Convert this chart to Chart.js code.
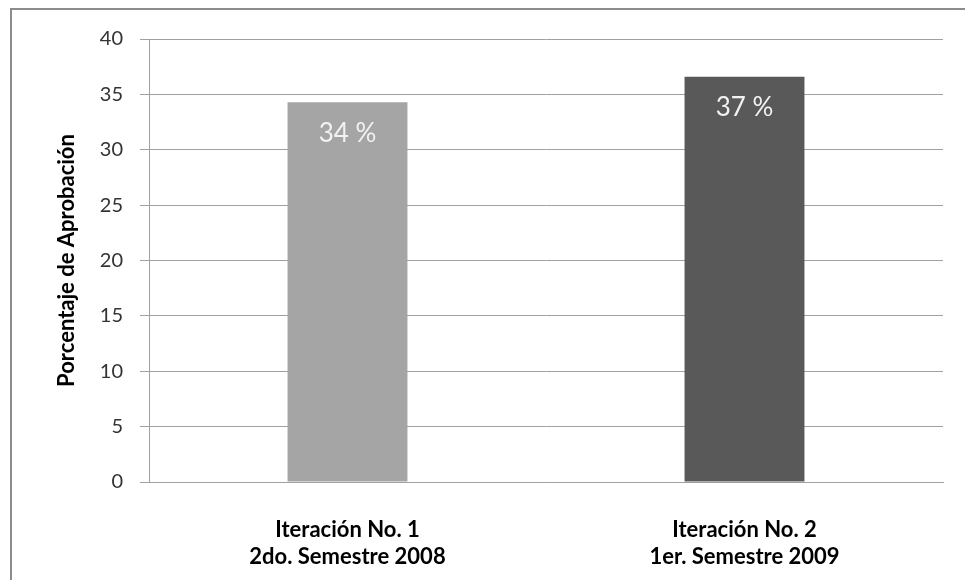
<!DOCTYPE html>
<html>
<head>
<meta charset="utf-8">
<script src="https://cdn.jsdelivr.net/npm/chart.js@4/dist/chart.umd.min.js"></script>
<style>
  html, body { margin: 0; padding: 0; background: #fff; }
  #wrap { position: relative; width: 965px; height: 580px; overflow: hidden; }
  #frame { position: absolute; left: 10px; top: 8px; width: 1000px; height: 700px; border: 2px solid #8c8c8c; }
  canvas { position: absolute; left: 0; top: 0; }
</style>
</head>
<body>
<div id="wrap">
  <div id="frame"></div>
  <canvas id="chart" width="965" height="580"></canvas>
</div>
<script>
'use strict';

// Approval rate per iteration
const categories = [
    ['Iteración No. 1', '2do. Semestre 2008'],
    ['Iteración No. 2', '1er. Semestre 2009']
];
const approval = [34.3, 36.6];
const valueLabels = ['34 %', '37 %'];
const barColors = ['#a5a5a5', '#595959'];

const fontFamily = 'Lato, "Open Sans", sans-serif';

// writes the percentage inside the top of each bar
const barLabels = {
    id: 'barLabels',
    afterDatasetsDraw(chart) {
        const ctx = chart.ctx;
        const meta = chart.getDatasetMeta(0);
        ctx.save();
        ctx.fillStyle = '#f2f2f2';
        ctx.font = '26px ' + fontFamily;
        ctx.textAlign = 'center';
        ctx.textBaseline = 'middle';
        meta.data.forEach((bar, i) => {
            ctx.fillText(valueLabels[i], bar.x, bar.y + 31);
        });
        ctx.restore();
    }
};

function draw() {
    new Chart(document.getElementById('chart'), {
        type: 'bar',
        data: {
            labels: categories,
            datasets: [{
                data: approval,
                backgroundColor: barColors,
                categoryPercentage: 0.302,
                barPercentage: 1
            }]
        },
        options: {
            responsive: false,
            animation: false,
            layout: { padding: { left: 54, right: 22, top: 39, bottom: 16 } },
            plugins: {
                legend: { display: false },
                tooltip: { enabled: false }
            },
            scales: {
                x: {
                    grid: { display: false },
                    border: { display: true, color: '#a0a0a0' },
                    ticks: {
                        color: '#000',
                        font: { family: fontFamily, size: 22, weight: 'bold', lineHeight: 1.25 },
                        padding: 26,
                        maxRotation: 0
                    },
                    afterFit(scale) { scale.height = 82; }
                },
                y: {
                    min: 0,
                    max: 40,
                    ticks: {
                        stepSize: 5,
                        color: '#333',
                        font: { family: fontFamily, size: 20 },
                        padding: 17
                    },
                    grid: { color: '#a0a0a0', tickLength: 9 },
                    border: { color: '#a0a0a0' },
                    title: {
                        display: true,
                        text: 'Porcentaje de Aprobación',
                        color: '#000',
                        font: { family: fontFamily, size: 22, weight: 'bold' },
                        padding: { top: 0, bottom: 10 }
                    },
                    afterFit(scale) { scale.width = 95; }
                }
            }
        },
        plugins: [barLabels]
    });
}

Promise.all([
    document.fonts.load('20px Lato'),
    document.fonts.load('bold 22px Lato')
]).then(draw, draw);
</script>
</body>
</html>
